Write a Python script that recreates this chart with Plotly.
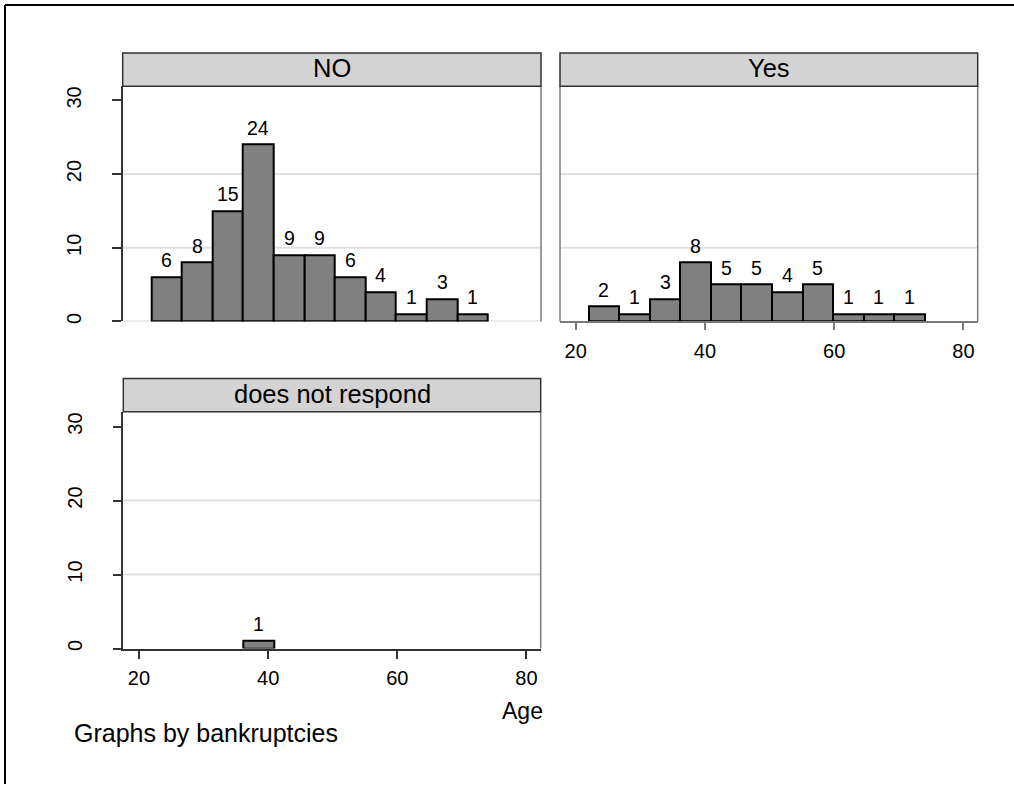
import plotly.graph_objects as go

# Age histogram, 11 equal-width bins from 22 to 74, split by bankruptcy answer
bin_start = 22.0
bin_width = 52.0 / 11
n_bins = 11

no_counts = [6, 8, 15, 24, 9, 9, 6, 4, 1, 3, 1]
yes_counts = [2, 1, 3, 8, 5, 5, 4, 5, 1, 1, 1]
dnr_counts = [0, 0, 0, 1, 0, 0, 0, 0, 0, 0, 0]

panel_titles = ["NO", "Yes", "does not respond"]
y_ticks = [0, 10, 20, 30]
x_ticks = [20, 40, 60, 80]
grid_levels = [10, 20]

W, H = 1014, 787
FONT = "Liberation Sans, Arial, Helvetica, sans-serif"
BAR_FILL = "#808080"
STRIP_FILL = "#d3d3d3"
OUTLINE = "#7a7a7a"
AXIS_DARK = "#333333"
GRID = "#e0e0e0"

centers = [bin_start + bin_width * (i + 0.5) for i in range(n_bins)]


def px_x(v):
    return v / W


def px_y(v):
    return 1 - v / H


# panel boxes in pixels: (left, top, right, bottom)
boxes = {
    "NO": (122.7, 86.7, 541.0, 322.7),
    "Yes": (560.0, 86.7, 977.7, 322.7),
    "DNR": (123.3, 413.3, 540.7, 651.0),
}
strip_h = 33.4

fig = go.Figure()
annotations = []

series = [(no_counts, "x", "y"), (yes_counts, "x2", "y2"), (dnr_counts, "x3", "y3")]
for counts, xa, ya in series:
    xs = [c for c, v in zip(centers, counts) if v > 0]
    ys = [v for v in counts if v > 0]
    fig.add_trace(go.Bar(
        x=xs, y=ys, width=bin_width, xaxis=xa, yaxis=ya,
        marker=dict(color=BAR_FILL, line=dict(color="black", width=2)),
        showlegend=False, hoverinfo="skip",
    ))
    # count labels above each bar
    for xv, yv in zip(xs, ys):
        annotations.append(dict(text=str(yv), x=xv, y=yv, xref=xa, yref=ya,
                                xanchor="center", yanchor="bottom", yshift=4,
                                showarrow=False,
                                font=dict(size=19.5, family=FONT, color="black")))

x_range = [17.57, 82.2]

common_x = dict(range=x_range, showgrid=False, zeroline=False, fixedrange=True)
common_y = dict(showgrid=False, zeroline=False, fixedrange=True)

no_b, yes_b, dnr_b = boxes["NO"], boxes["Yes"], boxes["DNR"]

fig.update_layout(
    width=W, height=H,
    margin=dict(l=0, r=0, t=0, b=0),
    paper_bgcolor="white", plot_bgcolor="white",
    font=dict(family=FONT, color="black"),
    bargap=0,
    xaxis=dict(domain=[px_x(no_b[0]), px_x(no_b[2])], anchor="y",
               showticklabels=False, showline=False, ticks="", **common_x),
    yaxis=dict(domain=[px_y(no_b[3]), px_y(no_b[1])], anchor="x",
               range=[0, 31.9], tickvals=y_ticks, tickangle=-90,
               ticks="outside", ticklen=9, tickwidth=1.5, tickcolor=AXIS_DARK,
               showline=True, linecolor=AXIS_DARK, linewidth=1.5,
               ticklabelstandoff=23,
               tickfont=dict(size=20, family=FONT, color="black"), **common_y),
    xaxis2=dict(domain=[px_x(yes_b[0]), px_x(yes_b[2])], anchor="y2",
                tickvals=x_ticks, ticks="outside", ticklen=7, tickwidth=1.5,
                tickcolor=OUTLINE, showline=True, linecolor=OUTLINE, linewidth=1.5,
                ticklabelstandoff=4,
                tickfont=dict(size=20, family=FONT, color="black"), **common_x),
    yaxis2=dict(domain=[px_y(yes_b[3]), px_y(yes_b[1])], anchor="x2",
                range=[0, 31.9], showticklabels=False, ticks="", showline=False,
                **common_y),
    xaxis3=dict(domain=[px_x(dnr_b[0]), px_x(dnr_b[2])], anchor="y3",
                tickvals=x_ticks, ticks="outside", ticklen=9, tickwidth=1.5,
                tickcolor=AXIS_DARK, showline=True, linecolor=AXIS_DARK, linewidth=1.5,
                ticklabelstandoff=2,
                tickfont=dict(size=20, family=FONT, color="black"), **common_x),
    yaxis3=dict(domain=[px_y(dnr_b[3]), px_y(dnr_b[1])], anchor="x3",
                range=[0, 32], tickvals=y_ticks, tickangle=-90,
                ticks="outside", ticklen=9, tickwidth=1.5, tickcolor=AXIS_DARK,
                showline=True, linecolor=AXIS_DARK, linewidth=1.5,
                ticklabelstandoff=23,
                tickfont=dict(size=20, family=FONT, color="black"), **common_y),
)

shapes = []


def vline(xref, yref, xpos, color, width=1.5):
    shapes.append(dict(type="line", xref=xref, yref=yref, x0=xpos, x1=xpos,
                       y0=0, y1=1, line=dict(color=color, width=width), layer="above"))


# gridlines at 10 and 20 in every panel
for xa, ya in [("x", "y"), ("x2", "y2"), ("x3", "y3")]:
    for g in grid_levels:
        shapes.append(dict(type="line", xref=f"{xa} domain", yref=ya, x0=0, x1=1,
                           y0=g, y1=g, line=dict(color=GRID, width=2), layer="below"))

# plot-region outlines
vline("x domain", "y domain", 1, OUTLINE)
shapes.append(dict(type="line", xref="x domain", yref="y", x0=0, x1=1, y0=0, y1=0,
                   line=dict(color="#d8d8d8", width=2), layer="below"))
vline("x2 domain", "y2 domain", 0, OUTLINE)
vline("x2 domain", "y2 domain", 1, OUTLINE)
vline("x3 domain", "y3 domain", 1, OUTLINE)

# panel header strips
for title, key in zip(panel_titles, ["NO", "Yes", "DNR"]):
    l, t, r, _ = boxes[key]
    shapes.append(dict(type="rect", xref="paper", yref="paper",
                       x0=px_x(l), x1=px_x(r), y0=px_y(t), y1=px_y(t - strip_h),
                       fillcolor=STRIP_FILL, line=dict(color=AXIS_DARK, width=1.5),
                       layer="above"))
    annotations.append(dict(text=title, xref="paper", yref="paper",
                            x=px_x((l + r) / 2), y=px_y(t - strip_h / 2 - 1.5),
                            xanchor="center", yanchor="middle", showarrow=False,
                            font=dict(size=25.5, family=FONT, color="black")))

# outer frame (top and left edges)
shapes.append(dict(type="line", xref="paper", yref="paper", x0=px_x(5), x1=1,
                   y0=px_y(5), y1=px_y(5), line=dict(color="black", width=2)))
shapes.append(dict(type="line", xref="paper", yref="paper", x0=px_x(5), x1=px_x(5),
                   y0=0, y1=px_y(5), line=dict(color="black", width=2)))

annotations.append(dict(text="Age", xref="paper", yref="paper",
                        x=px_x(522), y=px_y(714), xanchor="center", yanchor="middle",
                        showarrow=False, font=dict(size=23, family=FONT, color="black")))
annotations.append(dict(text="Graphs by bankruptcies", xref="paper", yref="paper",
                        x=px_x(72), y=px_y(736), xanchor="left", yanchor="middle",
                        showarrow=False, font=dict(size=25, family=FONT, color="black")))

fig.update_layout(shapes=shapes, annotations=annotations)

fig.write_html("out.html")
